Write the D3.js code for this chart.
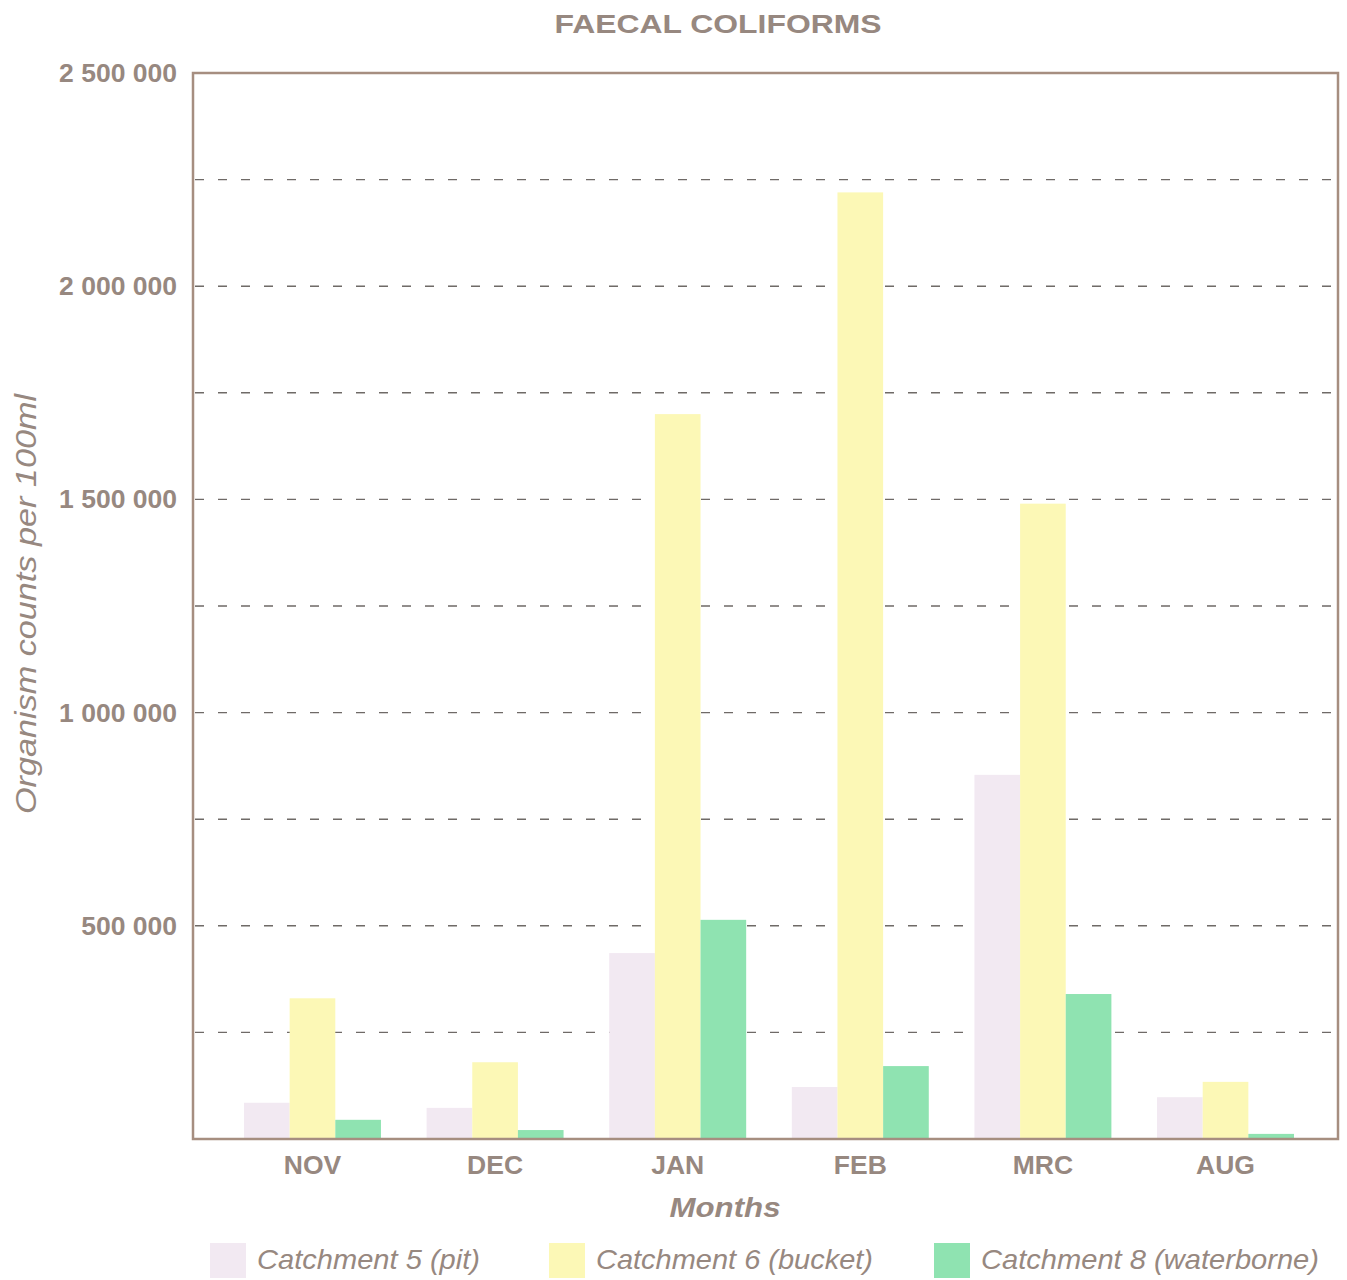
<!DOCTYPE html>
<html>
<head>
<meta charset="utf-8">
<script src="https://cdn.jsdelivr.net/npm/d3@7"></script>
<style>
  body { margin: 0; background: #fff; }
  svg { display: block; font-family: "Liberation Sans", Arial, sans-serif; }
</style>
</head>
<body>
<svg id="chart" width="1347" height="1280"></svg>
<script>
// Faecal coliform counts per catchment, by sampling month
const months = ["NOV", "DEC", "JAN", "FEB", "MRC", "AUG"];
const seriesNames = ["Catchment 5 (pit)", "Catchment 6 (bucket)", "Catchment 8 (waterborne)"];
const catchment5 = [85000, 73000, 436000, 122000, 854000, 98000];
const catchment6 = [330000, 180000, 1700000, 2220000, 1490000, 134000];
const catchment8 = [45000, 21000, 514000, 171000, 340000, 12000];
const yTicks = [500000, 1000000, 1500000, 2000000, 2500000];
const gridValues = [250000, 500000, 750000, 1000000, 1250000, 1500000, 1750000, 2000000, 2250000];

const series = [catchment5, catchment6, catchment8];
const colors = ["#f2e9f2", "#fcf8b6", "#8fe3b1"];
const textColor = "#978880";
const frameColor = "#a68e80";

const svg = d3.select("#chart");
const plot = { left: 193, right: 1338, top: 73, bottom: 1139 };

const y = d3.scaleLinear().domain([0, 2500000]).range([plot.bottom, plot.top]);
const x0 = d3.scaleBand().domain(months).range([244, 1294]).paddingInner(0.25).paddingOuter(0);
const x1 = d3.scaleBand().domain(d3.range(series.length)).range([0, x0.bandwidth()]);

const fmt = v => d3.format(",")(v).replace(/,/g, " ");

// title
svg.append("text")
  .attr("x", 718).attr("y", 33)
  .attr("text-anchor", "middle")
  .attr("font-size", 25).attr("font-weight", "bold")
  .attr("textLength", 327).attr("lengthAdjust", "spacingAndGlyphs")
  .attr("fill", textColor)
  .text("FAECAL COLIFORMS");

// dashed gridlines
svg.append("g").selectAll("line").data(gridValues).join("line")
  .attr("x1", plot.left + 2).attr("x2", plot.right - 2)
  .attr("y1", d => y(d)).attr("y2", d => y(d))
  .attr("stroke", "#6f6a67").attr("stroke-width", 1.4)
  .attr("stroke-dasharray", "9 14");

// bars
const groups = svg.append("g").selectAll("g").data(months).join("g")
  .attr("transform", d => `translate(${x0(d)},0)`);
groups.selectAll("rect")
  .data((m, i) => series.map((s, k) => ({ k, v: s[i] })))
  .join("rect")
  .attr("x", d => x1(d.k))
  .attr("width", x1.bandwidth())
  .attr("y", d => y(d.v))
  .attr("height", d => y(0) - y(d.v))
  .attr("fill", d => colors[d.k]);

// frame
svg.append("rect")
  .attr("x", plot.left).attr("y", plot.top)
  .attr("width", plot.right - plot.left).attr("height", plot.bottom - plot.top)
  .attr("fill", "none").attr("stroke", frameColor).attr("stroke-width", 2.5);

// y axis labels
const yAxis = d3.axisLeft(y).tickValues(yTicks).tickSize(0).tickPadding(16).tickFormat(fmt);
const gy = svg.append("g").attr("transform", `translate(${plot.left},0)`).call(yAxis);
gy.select(".domain").remove();
gy.selectAll("text")
  .attr("font-size", 26.5).attr("font-weight", "bold")
  .attr("fill", textColor).attr("font-family", "Liberation Sans, Arial, sans-serif");

// x axis labels
const xAxis = d3.axisBottom(x0).tickSize(0).tickPadding(16);
const gx = svg.append("g").attr("transform", `translate(0,${plot.bottom})`).call(xAxis);
gx.select(".domain").remove();
gx.selectAll("text")
  .attr("font-size", 26.5).attr("font-weight", "bold")
  .attr("fill", textColor).attr("font-family", "Liberation Sans, Arial, sans-serif");

// axis titles
svg.append("text")
  .attr("x", 725).attr("y", 1217)
  .attr("text-anchor", "middle")
  .attr("font-size", 28).attr("font-weight", "bold").attr("font-style", "italic")
  .attr("textLength", 111).attr("lengthAdjust", "spacingAndGlyphs")
  .attr("fill", textColor)
  .text("Months");

svg.append("text")
  .attr("transform", "translate(36,604) rotate(-90)")
  .attr("text-anchor", "middle")
  .attr("font-size", 29).attr("font-style", "italic")
  .attr("textLength", 420).attr("lengthAdjust", "spacingAndGlyphs")
  .attr("fill", textColor)
  .text("Organism counts per 100ml");

// legend
const legendX = [210, 549, 934];
const legendTextLen = [223, 277, 338];
const legend = svg.append("g").selectAll("g").data(seriesNames).join("g")
  .attr("transform", (d, i) => `translate(${legendX[i]},1243)`);
legend.append("rect")
  .attr("width", 36).attr("height", 35)
  .attr("fill", (d, i) => colors[i]);
legend.append("text")
  .attr("x", 47).attr("y", 26)
  .attr("font-size", 28).attr("font-style", "italic")
  .attr("textLength", (d, i) => legendTextLen[i]).attr("lengthAdjust", "spacingAndGlyphs")
  .attr("fill", textColor)
  .text(d => d);
</script>
</body>
</html>
